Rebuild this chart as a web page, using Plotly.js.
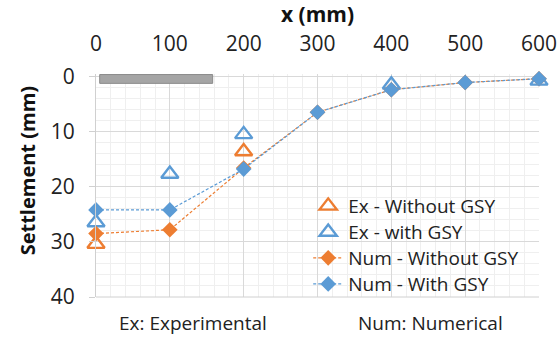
<!DOCTYPE html>
<html>
<head>
<meta charset="utf-8">
<script src="https://cdn.plot.ly/plotly-3.0.1.min.js"></script>
<style>html,body{margin:0;padding:0;background:#fff;}#chart{width:557px;height:338px;}</style>
</head>
<body>
<div id="chart"></div>
<script>
// x positions (mm)
const xTicks = [0, 100, 200, 300, 400, 500, 600];
const yTicks = [0, 10, 20, 30, 40];

// Experimental
const exWithoutX = [0, 200];
const exWithoutY = [30.4, 13.6];
const exWithX = [0, 100, 200, 400, 600];
const exWithY = [26.5, 17.7, 10.5, 1.5, 0.8];

// Numerical
const numWithoutX = [0, 100, 200, 300, 400, 500, 600];
const numWithoutY = [28.5, 27.8, 16.6, 6.5, 2.4, 1.1, 0.4];
const numWithX = [0, 100, 200, 300, 400, 500, 600];
const numWithY = [24.2, 24.2, 16.8, 6.5, 2.4, 1.1, 0.4];

// footing extent (mm)
const footingX = [5, 158];
const footingY = [-0.35, 1.25];

const BLUE = '#5B9BD5', ORANGE = '#ED7D31';
const FONT = '"Open Sans", "Noto Sans", sans-serif';

const traces = [
  {x: exWithoutX, y: exWithoutY, name: 'Ex - Without GSY', legend: 'legend', mode: 'markers', type: 'scatter', cliponaxis: false,
   marker: {symbol: 'triangle-up-open', size: 15, color: ORANGE, line: {width: 2.4, color: ORANGE}}},
  {x: exWithX, y: exWithY, name: 'Ex - with GSY', legend: 'legend2', mode: 'markers', type: 'scatter', cliponaxis: false,
   marker: {symbol: 'triangle-up-open', size: 15, color: BLUE, line: {width: 2.4, color: BLUE}}},
  {x: numWithoutX, y: numWithoutY, name: 'Num - Without GSY', legend: 'legend3', mode: 'lines+markers', type: 'scatter', cliponaxis: false,
   line: {color: ORANGE, width: 1.2, dash: '3px,2px'},
   marker: {symbol: 'diamond', size: 12, color: ORANGE}},
  {x: numWithX, y: numWithY, name: 'Num - With GSY', legend: 'legend4', mode: 'lines+markers', type: 'scatter', cliponaxis: false,
   line: {color: BLUE, width: 1.2, dash: '3px,2px'},
   marker: {symbol: 'diamond', size: 12, color: BLUE}}
];

function leg(yc) {
  return {x: 0.479, y: yc, xanchor: 'left', yanchor: 'middle', bgcolor: 'rgba(0,0,0,0)',
          font: {family: FONT, size: 19, color: '#222'}, itemwidth: 30};
}

const layout = {
  width: 557, height: 338,
  margin: {l: 96, r: 18, t: 74, b: 41},
  paper_bgcolor: '#fff', plot_bgcolor: '#fff',
  font: {family: FONT, size: 18, color: '#222'},
  showlegend: true,
  legend: leg(0.408), legend2: leg(0.291), legend3: leg(0.175), legend4: leg(0.058),
  xaxis: {
    side: 'top', range: [0, 600], tickvals: xTicks, ticktext: xTicks.map(String),
    showgrid: true, gridcolor: '#d9d9d9', gridwidth: 1,
    minor: {dtick: 20, showgrid: true, gridcolor: '#efefef', gridwidth: 1},
    zeroline: false, showline: false, ticks: '', ticklabelstandoff: 18, ticklabeloverflow: 'allow',
    tickfont: {family: FONT, size: 21, color: '#222'},
    title: {text: '<b>x (mm)</b>', font: {family: FONT, size: 21, color: '#111'}, standoff: 0}
  },
  yaxis: {
    range: [40, -0.45], tickvals: yTicks, ticktext: yTicks.map(String),
    showgrid: true, gridcolor: '#d9d9d9', gridwidth: 1,
    minor: {dtick: 2, showgrid: true, gridcolor: '#efefef', gridwidth: 1},
    zeroline: false, showline: true, linecolor: '#d0d0d0', linewidth: 1,
    ticks: 'outside', ticklen: 6, tickcolor: '#d0d0d0', ticklabelstandoff: 10, ticklabeloverflow: 'allow',
    tickfont: {family: FONT, size: 21, color: '#222'}
  },
  shapes: [
    {type: 'rect', xref: 'x', yref: 'y', x0: footingX[0], x1: footingX[1], y0: footingY[0], y1: footingY[1],
     fillcolor: '#a5a5a5', line: {color: '#8a8a8a', width: 1}, layer: 'above'},
    {type: 'line', xref: 'paper', yref: 'paper', x0: 0, x1: 1, y0: 0, y1: 0, line: {color: '#d0d0d0', width: 1}}
  ],
  annotations: [
    {text: '<b>Settlement (mm)</b>', textangle: -90, xref: 'paper', yref: 'paper', x: -0.155, y: 0.565,
     xanchor: 'center', yanchor: 'middle', showarrow: false, font: {family: FONT, size: 20, color: '#111'}},
    {text: 'Ex: Experimental', xref: 'paper', yref: 'paper', x: 0.22, y: -0.05, xanchor: 'center', yanchor: 'top',
     showarrow: false, font: {family: FONT, size: 19, color: '#222'}},
    {text: 'Num: Numerical', xref: 'paper', yref: 'paper', x: 0.755, y: -0.05, xanchor: 'center', yanchor: 'top',
     showarrow: false, font: {family: FONT, size: 19, color: '#222'}}
  ]
};

Plotly.newPlot('chart', traces, layout, {displayModeBar: false, staticPlot: true});
</script>
</body>
</html>
